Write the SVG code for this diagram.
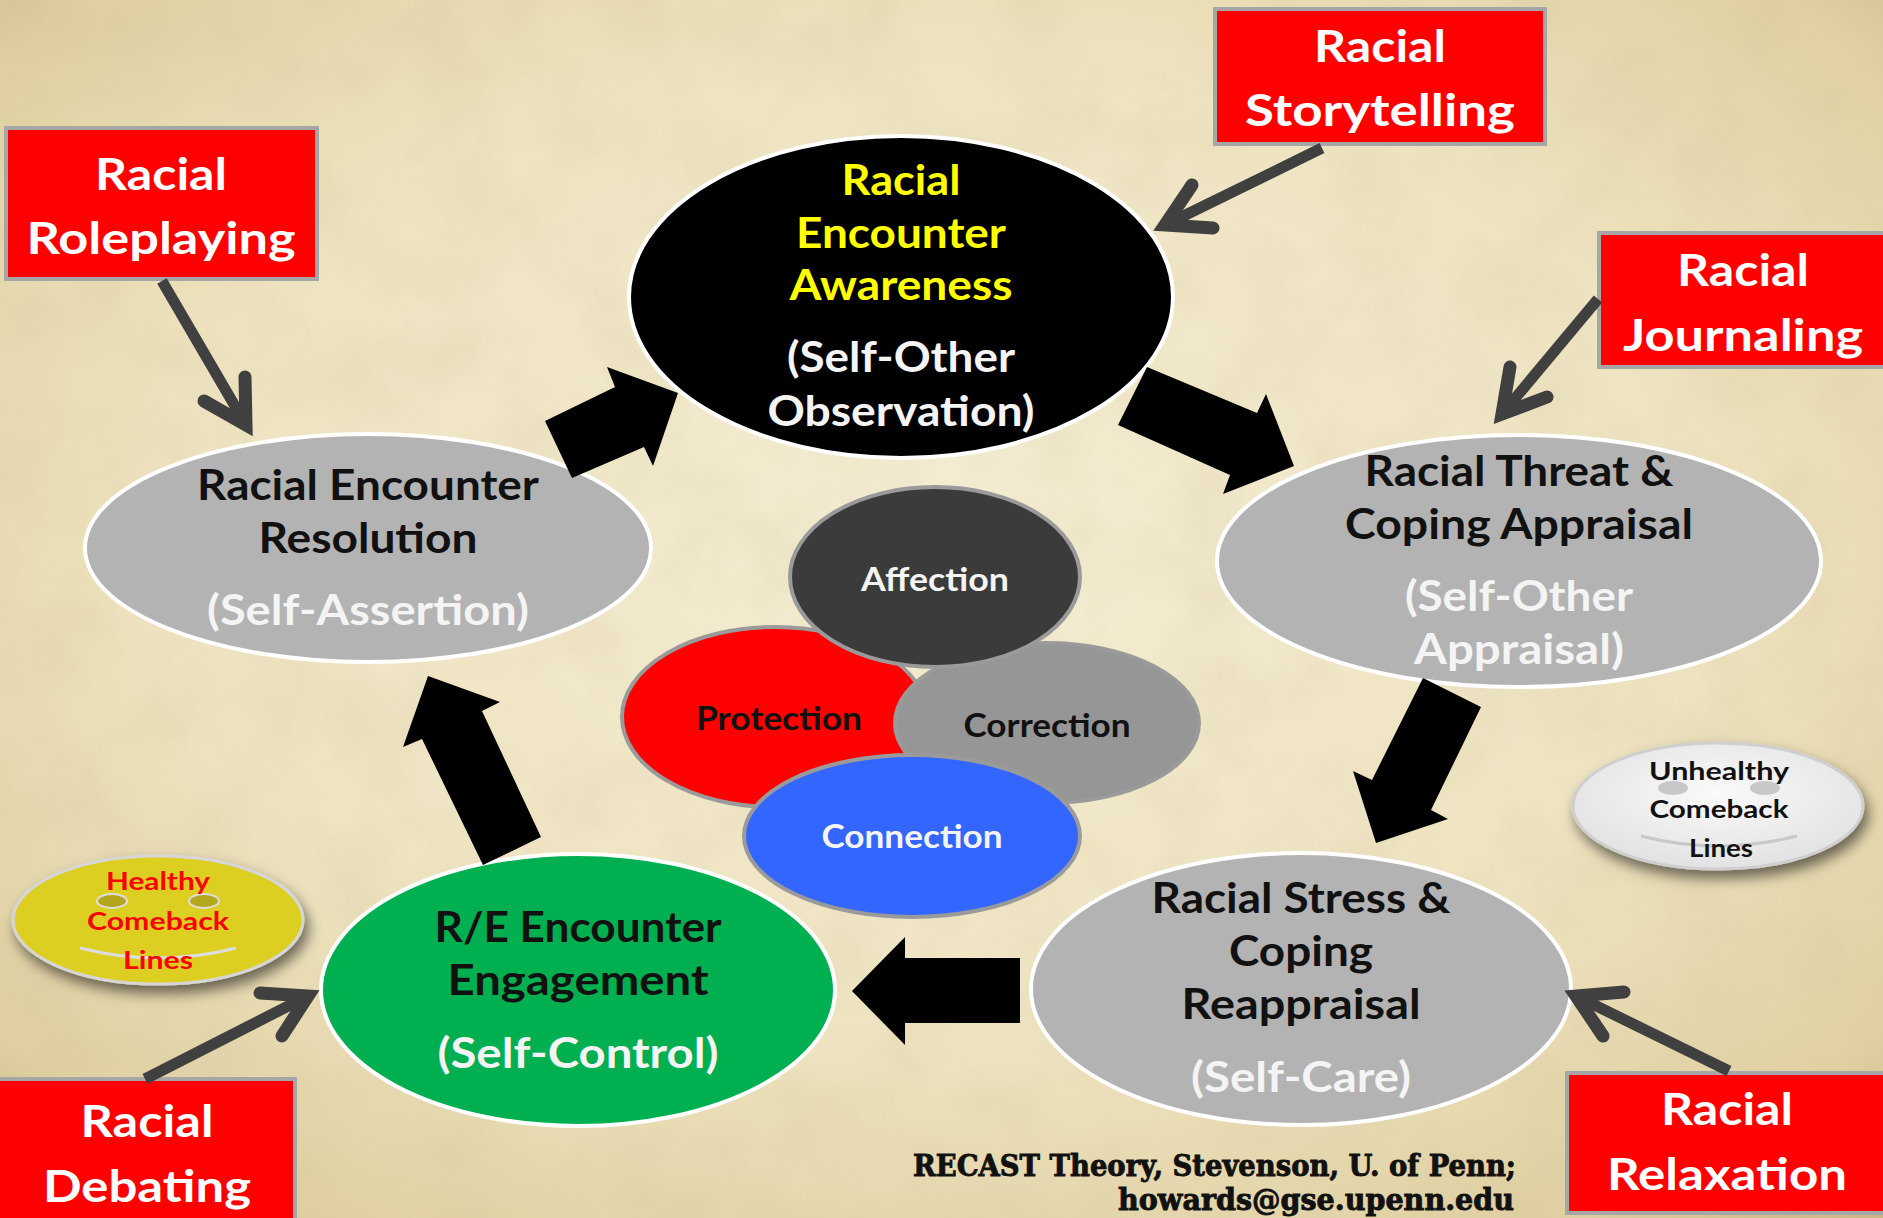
<svg xmlns="http://www.w3.org/2000/svg" width="1883" height="1218" viewBox="0 0 1883 1218">
<defs>
<radialGradient id="bg" cx="50%" cy="45%" r="75%">
<stop offset="0" stop-color="#f4edd3"/>
<stop offset="0.55" stop-color="#eee3c0"/>
<stop offset="0.85" stop-color="#e0d0a2"/>
<stop offset="1" stop-color="#c9b482"/>
</radialGradient>
<filter id="paper" x="0" y="0" width="100%" height="100%">
<feTurbulence type="fractalNoise" baseFrequency="0.012" numOctaves="4" seed="5"/>
<feColorMatrix type="matrix" values="0 0 0 0 0.6  0 0 0 0 0.5  0 0 0 0 0.3  0.9 0 0 0 -0.35"/>
</filter>
<filter id="shadow" x="-20%" y="-20%" width="140%" height="160%">
<feDropShadow dx="4" dy="8" stdDeviation="7" flood-color="#000" flood-opacity="0.55"/>
</filter>
<radialGradient id="white" cx="50%" cy="40%" r="60%">
<stop offset="0" stop-color="#fafafa"/>
<stop offset="1" stop-color="#e2e2e2"/>
</radialGradient>
<style>
.t{font-family:Lato,"Open Sans","DejaVu Sans",sans-serif;font-weight:700;text-anchor:middle}
.big{font-size:42px}
.box{font-size:43px;fill:#ffffff}
.mid{font-size:33px}
.face{font-size:25px}
.dk{fill:#111111}
.wh{fill:#f4f4f4}
.yl{fill:#ffff00}
.rb{fill:#ff0000;stroke:#a6a6a6;stroke-width:4}
.node{stroke:#ffffff;stroke-width:4}
.sm{stroke:#9a9a9a;stroke-width:4}
.blk{fill:#000000}
.shaft{fill:none;stroke:#404040;stroke-width:11}
.head{fill:none;stroke:#404040;stroke-width:13;stroke-linecap:round;stroke-linejoin:miter;stroke-miterlimit:10}
.foot{font-family:"DejaVu Serif","Liberation Serif",serif;font-weight:700;font-size:29px;fill:#111111;stroke:#111111;stroke-width:0.9;text-anchor:end}
</style>
</defs>
<rect x="0" y="0" width="1883" height="1218" fill="url(#bg)"/>
<rect x="0" y="0" width="1883" height="1218" filter="url(#paper)" opacity="0.4"/>

<g id="n-awareness">
<ellipse cx="901" cy="297" rx="272" ry="161" fill="#000000" class="node"/>
<text class="t big yl" x="901" y="195" textLength="119" lengthAdjust="spacingAndGlyphs">Racial</text>
<text class="t big yl" x="901" y="248" textLength="210" lengthAdjust="spacingAndGlyphs">Encounter</text>
<text class="t big yl" x="901" y="300" textLength="223" lengthAdjust="spacingAndGlyphs">Awareness</text>
<text class="t big wh" x="901" y="372" textLength="228" lengthAdjust="spacingAndGlyphs">(Self-Other</text>
<text class="t big wh" x="901" y="426" textLength="267" lengthAdjust="spacingAndGlyphs">Observation)</text>
</g>

<g id="n-resolution">
<ellipse cx="368" cy="548" rx="283" ry="114" fill="#b3b3b3" class="node"/>
<text class="t big dk" x="368" y="500" textLength="342" lengthAdjust="spacingAndGlyphs">Racial Encounter</text>
<text class="t big dk" x="368" y="553" textLength="219" lengthAdjust="spacingAndGlyphs">Resolution</text>
<text class="t big wh" x="368" y="625" textLength="322" lengthAdjust="spacingAndGlyphs">(Self-Assertion)</text>
</g>

<g id="n-threat">
<ellipse cx="1519" cy="561" rx="302" ry="126" fill="#b3b3b3" class="node"/>
<text class="t big dk" x="1519" y="486" textLength="309" lengthAdjust="spacingAndGlyphs">Racial Threat &amp;</text>
<text class="t big dk" x="1519" y="539" textLength="348" lengthAdjust="spacingAndGlyphs">Coping Appraisal</text>
<text class="t big wh" x="1519" y="611" textLength="228" lengthAdjust="spacingAndGlyphs">(Self-Other</text>
<text class="t big wh" x="1519" y="664" textLength="210" lengthAdjust="spacingAndGlyphs">Appraisal)</text>
</g>

<g id="n-stress">
<ellipse cx="1301" cy="989" rx="270" ry="136" fill="#b3b3b3" class="node"/>
<text class="t big dk" x="1301" y="913" textLength="299" lengthAdjust="spacingAndGlyphs">Racial Stress &amp;</text>
<text class="t big dk" x="1301" y="966" textLength="144" lengthAdjust="spacingAndGlyphs">Coping</text>
<text class="t big dk" x="1301" y="1019" textLength="239" lengthAdjust="spacingAndGlyphs">Reappraisal</text>
<text class="t big wh" x="1301" y="1092" textLength="220" lengthAdjust="spacingAndGlyphs">(Self-Care)</text>
</g>

<g id="n-engagement">
<ellipse cx="578" cy="990" rx="257" ry="136" fill="#00b050" class="node"/>
<text class="t big dk" x="578" y="942" textLength="287" lengthAdjust="spacingAndGlyphs">R/E Encounter</text>
<text class="t big dk" x="578" y="995" textLength="261" lengthAdjust="spacingAndGlyphs">Engagement</text>
<text class="t big wh" x="578" y="1068" textLength="281" lengthAdjust="spacingAndGlyphs">(Self-Control)</text>
</g>

<g id="n-protection">
<ellipse cx="775" cy="717" rx="153" ry="90" fill="#ff0000" class="sm"/>
<text class="t mid dk" x="779" y="730" textLength="166" lengthAdjust="spacingAndGlyphs">Protection</text>
</g>
<g id="n-correction">
<ellipse cx="1047" cy="723" rx="152" ry="80" fill="#969696" class="sm"/>
<text class="t mid dk" x="1047" y="737" textLength="167" lengthAdjust="spacingAndGlyphs">Correction</text>
</g>
<g id="n-affection">
<ellipse cx="935" cy="577" rx="145" ry="90" fill="#3b3b3b" class="sm"/>
<text class="t mid wh" x="935" y="591" textLength="148" lengthAdjust="spacingAndGlyphs">Affection</text>
</g>
<g id="n-connection">
<ellipse cx="912" cy="836" rx="168" ry="81" fill="#3366ff" class="sm"/>
<text class="t mid wh" x="912" y="848" textLength="181" lengthAdjust="spacingAndGlyphs">Connection</text>
</g>

<g id="n-healthy">
<ellipse cx="158" cy="920" rx="145" ry="64" fill="#dccf22" stroke="#d6d6d6" stroke-width="3" filter="url(#shadow)"/>
<ellipse cx="112" cy="901" rx="15" ry="7" fill="#b4a71e" stroke="#dedede" stroke-width="2"/>
<ellipse cx="204" cy="901" rx="15" ry="7" fill="#b4a71e" stroke="#dedede" stroke-width="2"/>
<path d="M80,948 Q158,968 236,948" fill="none" stroke="#dedede" stroke-width="3"/>
<text class="t face" fill="#ff0000" x="158" y="890" textLength="104" lengthAdjust="spacingAndGlyphs">Healthy</text>
<text class="t face" fill="#ff0000" x="158" y="930" textLength="142" lengthAdjust="spacingAndGlyphs">Comeback</text>
<text class="t face" fill="#ff0000" x="158" y="969" textLength="70" lengthAdjust="spacingAndGlyphs">Lines</text>
</g>

<g id="n-unhealthy">
<ellipse cx="1718" cy="806" rx="145" ry="63" fill="url(#white)" stroke="#cfcfcf" stroke-width="3" filter="url(#shadow)"/>
<ellipse cx="1673" cy="788" rx="15" ry="7" fill="#c8c8c8"/>
<ellipse cx="1765" cy="788" rx="15" ry="7" fill="#c8c8c8"/>
<path d="M1641,836 Q1719,856 1797,836" fill="none" stroke="#c8c8c8" stroke-width="3"/>
<text class="t face dk" x="1719" y="780" textLength="140" lengthAdjust="spacingAndGlyphs">Unhealthy</text>
<text class="t face dk" x="1719" y="818" textLength="139" lengthAdjust="spacingAndGlyphs">Comeback</text>
<text class="t face dk" x="1721" y="857" textLength="64" lengthAdjust="spacingAndGlyphs">Lines</text>
</g>

<g id="n-storytelling">
<rect x="1215" y="9" width="330" height="135" class="rb"/>
<text class="t box" x="1380" y="62" textLength="132" lengthAdjust="spacingAndGlyphs">Racial</text>
<text class="t box" x="1380" y="126" textLength="270" lengthAdjust="spacingAndGlyphs">Storytelling</text>
</g>
<g id="n-roleplaying">
<rect x="6" y="128" width="311" height="151" class="rb"/>
<text class="t box" x="161" y="190" textLength="132" lengthAdjust="spacingAndGlyphs">Racial</text>
<text class="t box" x="161" y="254" textLength="269" lengthAdjust="spacingAndGlyphs">Roleplaying</text>
</g>
<g id="n-journaling">
<rect x="1599" y="233" width="300" height="134" class="rb"/>
<text class="t box" x="1743" y="286" textLength="132" lengthAdjust="spacingAndGlyphs">Racial</text>
<text class="t box" x="1743" y="351" textLength="240" lengthAdjust="spacingAndGlyphs">Journaling</text>
</g>
<g id="n-debating">
<rect x="-6" y="1079" width="301" height="150" class="rb"/>
<text class="t box" x="147" y="1137" textLength="133" lengthAdjust="spacingAndGlyphs">Racial</text>
<text class="t box" x="147" y="1202" textLength="208" lengthAdjust="spacingAndGlyphs">Debating</text>
</g>
<g id="n-relaxation">
<rect x="1567" y="1073" width="330" height="140" class="rb"/>
<text class="t box" x="1727" y="1125" textLength="132" lengthAdjust="spacingAndGlyphs">Racial</text>
<text class="t box" x="1727" y="1190" textLength="240" lengthAdjust="spacingAndGlyphs">Relaxation</text>
</g>

<g id="connectors">
<polygon class="blk" points="545,421 615,387 607,367 678,393 653,466 644,447 572,478"/>
<polygon class="blk" points="1147,367 1257,413 1266,394 1294,466 1223,494 1230,475 1118,425"/>
<polygon class="blk" points="1423,678 1481,707 1431,810 1448,819 1376,843 1353,771 1372,780"/>
<polygon class="blk" points="1020,958 905,958 905,937 852,991 905,1045 905,1023 1020,1023"/>
<polygon class="blk" points="541,837 483,865 422,739 403,747 428,676 500,702 482,711"/>
<line class="shaft" x1="1322" y1="148" x2="1165" y2="225"/>
<polyline class="head" points="1213,228 1165,225 1192,185"/>
<line class="shaft" x1="162" y1="281" x2="246" y2="425"/>
<polyline class="head" points="245,377 246,425 204,401"/>
<line class="shaft" x1="1598" y1="299" x2="1502" y2="414"/>
<polyline class="head" points="1547,397 1502,414 1510,367"/>
<line class="shaft" x1="145" y1="1079" x2="308" y2="996"/>
<polyline class="head" points="260,993 308,996 282,1036"/>
<line class="shaft" x1="1729" y1="1071" x2="1576" y2="996"/>
<polyline class="head" points="1603,1036 1576,996 1624,992"/>
</g>

<g id="credit">
<text class="foot" x="1516" y="1176" textLength="603" lengthAdjust="spacingAndGlyphs">RECAST Theory, Stevenson, U. of Penn;</text>
<text class="foot" x="1514" y="1210" textLength="396" lengthAdjust="spacingAndGlyphs">howards@gse.upenn.edu</text>
</g>
</svg>
